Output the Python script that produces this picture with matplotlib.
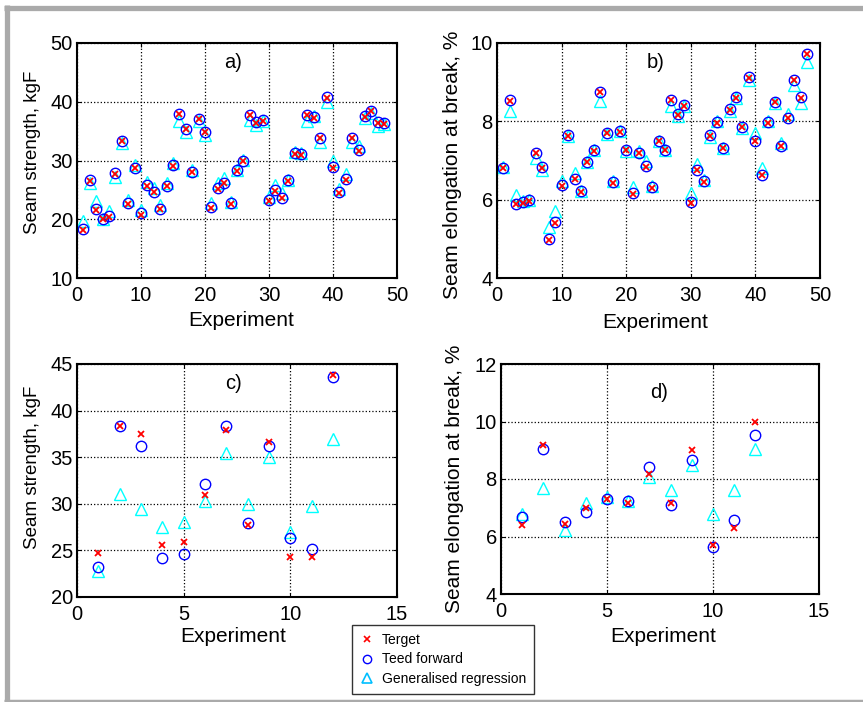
import numpy as np
import matplotlib
matplotlib.use("Agg")
import matplotlib.pyplot as plt
from matplotlib.lines import Line2D

plt.rcParams['font.family'] = ['Liberation Sans', 'DejaVu Sans']

# ---------------------------------------------------------------
# DATA
# ---------------------------------------------------------------
exp_a = list(range(1, 49))
ff_a = [18.4, 26.6, 21.8, 20.0, 20.5, 27.8, 33.4, 22.7, 28.8, 21.0,
        25.8, 24.7, 21.8, 25.7, 29.2, 37.9, 35.3, 28.1, 37.1, 34.9,
        22.1, 25.4, 26.2, 22.7, 28.3, 30.0, 37.8, 36.5, 36.9, 23.3,
        24.9, 23.7, 26.6, 31.2, 31.1, 37.8, 37.4, 33.8, 40.8, 28.9,
        24.7, 26.8, 33.8, 31.8, 37.5, 38.4, 36.5, 36.3]
tg_a = [18.2, 26.5, 21.6, 20.0, 20.3, 27.7, 33.3, 22.6, 28.7, 20.8,
        25.7, 24.6, 21.7, 25.7, 29.1, 37.9, 35.3, 28.0, 37.0, 34.8,
        22.0, 25.2, 26.1, 22.6, 28.2, 30.0, 37.7, 36.4, 36.8, 23.1,
        24.8, 23.6, 26.5, 31.1, 31.0, 37.7, 37.3, 33.8, 40.7, 28.7,
        24.5, 26.7, 33.8, 31.7, 37.4, 38.4, 36.4, 36.2]
gr_a = [19.7, 26.2, 23.1, 20.1, 21.4, 27.2, 32.9, 23.3, 29.2, 21.5,
        26.4, 25.4, 22.4, 26.2, 29.5, 36.8, 34.9, 28.3, 36.8, 34.4,
        22.8, 26.1, 27.0, 23.0, 28.4, 30.1, 36.9, 36.1, 36.8, 23.8,
        25.8, 24.4, 26.7, 31.5, 31.2, 36.8, 37.6, 33.2, 40.0, 30.0,
        25.1, 27.7, 33.2, 32.4, 37.2, 38.1, 35.8, 36.2]

exp_b = list(range(1, 49))
ff_b = [6.81, 8.55, 5.90, 5.93, 5.98, 7.20, 6.83, 5.00, 5.42, 6.38,
        7.65, 6.53, 6.21, 6.96, 7.26, 8.76, 7.71, 6.44, 7.75, 7.28,
        6.17, 7.20, 6.85, 6.32, 7.50, 7.28, 8.55, 8.18, 8.41, 5.94,
        6.77, 6.47, 7.65, 7.98, 7.32, 8.31, 8.61, 7.86, 9.12, 7.51,
        6.64, 7.98, 8.50, 7.37, 8.09, 9.06, 8.61, 9.72]
tg_b = [6.80, 8.53, 5.88, 5.92, 5.97, 7.18, 6.82, 4.98, 5.40, 6.36,
        7.63, 6.52, 6.20, 6.95, 7.25, 8.75, 7.70, 6.43, 7.74, 7.27,
        6.15, 7.19, 6.84, 6.31, 7.49, 7.27, 8.54, 8.16, 8.40, 5.92,
        6.76, 6.46, 7.63, 7.97, 7.31, 8.30, 8.60, 7.85, 9.11, 7.49,
        6.62, 7.97, 8.49, 7.36, 8.08, 9.05, 8.60, 9.71]
gr_b = [6.83, 8.26, 6.13, 5.96, 6.00, 7.07, 6.77, 5.29, 5.70, 6.47,
        7.62, 6.67, 6.23, 6.96, 7.28, 8.52, 7.67, 6.47, 7.75, 7.24,
        6.32, 7.24, 6.98, 6.34, 7.50, 7.28, 8.39, 8.14, 8.38, 6.17,
        6.92, 6.51, 7.61, 8.00, 7.32, 8.26, 8.59, 7.84, 9.06, 7.71,
        6.81, 8.00, 8.46, 7.45, 8.18, 8.92, 8.48, 9.52]

exp_c = list(range(1, 13))
tg_c = [24.7, 38.3, 37.45, 25.55, 25.95, 30.9, 37.9, 27.7, 36.6, 24.3, 24.25, 43.8]
ff_c = [23.2, 38.3, 36.2, 24.15, 24.6, 32.1, 38.3, 27.9, 36.2, 26.3, 25.15, 43.6]
gr_c = [22.8, 31.0, 29.4, 27.5, 28.0, 30.3, 35.4, 30.0, 35.05, 27.0, 29.8, 37.0]

exp_d = list(range(1, 13))
tg_d = [6.40, 9.20, 6.42, 7.00, 7.32, 7.15, 8.17, 7.15, 9.02, 5.70, 6.31, 10.0]
ff_d = [6.69, 9.06, 6.49, 6.86, 7.32, 7.24, 8.42, 7.09, 8.65, 5.64, 6.57, 9.52]
gr_d = [6.80, 7.70, 6.22, 7.15, 7.38, 7.24, 8.07, 7.61, 8.48, 6.78, 7.63, 9.06]

W, H = 863, 702
LBL_STRENGTH = "Seam strength, kgF"
LBL_ELONG = "Seam elongation at break, %"


def px_axes(fig, left, top, right, bottom):
    return fig.add_axes([left / W, 1 - bottom / H, (right - left) / W, (bottom - top) / H])


def draw_panel(ax, x, tg, ff, gr, xlim, ylim, xticks, yticks, tag, tagpos,
               ylabel, ylab_xy, xlab_xy, ylab_size):
    ax.plot(x, gr, linestyle='none', marker='^', ms=9, mfc='none', mec='#00ffff', mew=1.0)
    ax.plot(x, ff, linestyle='none', marker='o', ms=7.5, mfc='none', mec='#0000ff', mew=1.0)
    ax.plot(x, tg, linestyle='none', marker='x', ms=4.5, mec='#ff0000', mew=1.3)
    ax.set_xlim(*xlim)
    ax.set_ylim(*ylim)
    ax.set_xticks(xticks)
    ax.set_yticks(yticks)
    ax.grid(True, color='black', linestyle=':', linewidth=0.9)
    ax.tick_params(direction='in', length=3, top=True, right=True, labelsize=14.5)
    ax.tick_params(axis='x', pad=6)
    ax.tick_params(axis='y', pad=3)
    for s in ax.spines.values():
        s.set_linewidth(1.5)
    ax.text(tagpos[0], tagpos[1], tag, transform=ax.transAxes, ha='center', va='center',
            fontsize=14.5)
    ax.set_ylabel(ylabel, fontsize=ylab_size)
    ax.yaxis.set_label_coords(*ylab_xy)
    ax.set_xlabel("Experiment", fontsize=15, va='top')
    ax.xaxis.set_label_coords(*xlab_xy)


fig = plt.figure(figsize=(W / 100, H / 100), dpi=100)

ax_a = px_axes(fig, 77, 43, 397, 278)
draw_panel(ax_a, exp_a, tg_a, ff_a, gr_a, (0, 50), (10, 50), range(0, 51, 10), range(10, 51, 10),
           "a)", (0.489, 0.915), LBL_STRENGTH, (-0.113, 0.535), (0.512, -0.14), 13.5)

ax_b = px_axes(fig, 497, 43, 820, 278)
draw_panel(ax_b, exp_b, tg_b, ff_b, gr_b, (0, 50), (4, 10), range(0, 51, 10), range(4, 11, 2),
           "b)", (0.491, 0.917), LBL_ELONG, (-0.108, 0.48), (0.49, -0.15), 15)

ax_c = px_axes(fig, 77, 364, 397, 597)
draw_panel(ax_c, exp_c, tg_c, ff_c, gr_c, (0, 15), (20, 45), range(0, 16, 5), range(20, 46, 5),
           "c)", (0.49, 0.917), LBL_STRENGTH, (-0.1125, 0.558), (0.487, -0.13), 13.5)

ax_d = px_axes(fig, 501, 364, 819, 594)
draw_panel(ax_d, exp_d, tg_d, ff_d, gr_d, (0, 15), (4, 12), range(0, 16, 5), range(4, 13, 2),
           "d)", (0.498, 0.874), LBL_ELONG, (-0.116, 0.5), (0.51, -0.143), 15)

# legend
handles = [
    Line2D([], [], linestyle='none', marker='x', ms=4, mec='#ff0000', mew=1.2),
    Line2D([], [], linestyle='none', marker='o', ms=6, mfc='none', mec='#0000ff', mew=1.0),
    Line2D([], [], linestyle='none', marker='^', ms=7, mfc='none', mec='#00bfff', mew=1.2),
]
leg = fig.legend(handles, ["Terget", "Teed forward", "Generalised regression"],
                 loc='upper left', bbox_to_anchor=(352 / W, 1 - 625 / H),
                 fontsize=10, frameon=True, fancybox=False, handlelength=1.0,
                 handletextpad=0.6, borderpad=0.55, labelspacing=0.42, borderaxespad=0)
leg.get_frame().set_edgecolor('black')
leg.get_frame().set_linewidth(1.0)

# grey frame around the figure
grey = '#aaaaaa'
fig.add_artist(Line2D([4 / W, 1], [1 - 7.5 / H, 1 - 7.5 / H], color=grey, lw=3.8,
                      transform=fig.transFigure, solid_capstyle='butt'))
fig.add_artist(Line2D([6.5 / W, 6.5 / W], [1 - 5 / H, 0], color=grey, lw=3.8,
                      transform=fig.transFigure, solid_capstyle='butt'))
fig.add_artist(Line2D([4 / W, 1], [1.5 / H, 1.5 / H], color=grey, lw=2.5,
                      transform=fig.transFigure, solid_capstyle='butt'))

fig.savefig("out.png", dpi=100)
